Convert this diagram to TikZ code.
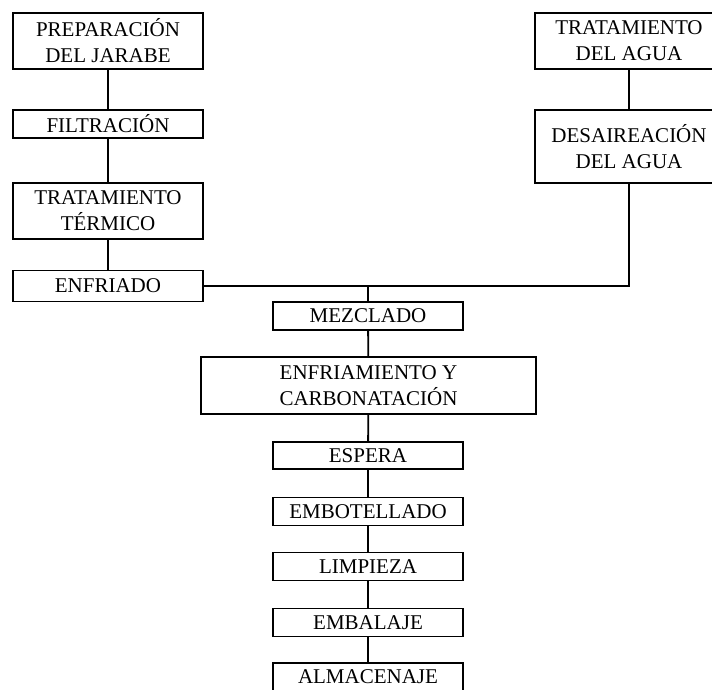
\documentclass[tikz,border=0pt]{standalone}
\usepackage{fontspec}
\setmainfont{Liberation Serif}
\begin{document}
\begin{tikzpicture}[x=1pt,y=-1pt,
  box/.style={draw, line width=1.8pt, align=center, inner sep=0pt,
    font=\fontsize{21}{26}\selectfont},
  ln/.style={line width=1.8pt}]
\useasboundingbox (0,0) rectangle (712,689);
\node[box, minimum width=190pt, minimum height=56pt] (prep) at (108,41) {PREPARACIÓN\\DEL JARABE};
\node[box, minimum width=190pt, minimum height=28pt] (filt) at (108,124) {FILTRACIÓN};
\node[box, minimum width=190pt, minimum height=56pt] (trat) at (108,211) {TRATAMIENTO\\TÉRMICO};
\node[box, minimum width=190pt, minimum height=31pt] (enfr) at (108,286) {ENFRIADO};
\node[box, minimum width=188pt, minimum height=56pt] (tagua) at (629,41) {TRATAMIENTO\\DEL AGUA};
\node[box, minimum width=188pt, minimum height=73pt] (desai) at (629,146.5) {DESAIREACIÓN\\DEL AGUA};
\node[box, minimum width=190pt, minimum height=28pt] (mezcl) at (368,316) {MEZCLADO};
\node[box, minimum width=335pt, minimum height=57pt] (carb) at (368.5,385.5) {ENFRIAMIENTO Y\\CARBONATACIÓN};
\node[box, minimum width=190pt, minimum height=27pt] (esp) at (368,455.5) {ESPERA};
\node[box, minimum width=190pt, minimum height=28pt] (embo) at (368,511.5) {EMBOTELLADO};
\node[box, minimum width=190pt, minimum height=28pt] (limp) at (368,566.5) {LIMPIEZA};
\node[box, minimum width=190pt, minimum height=28pt] (emba) at (368,622.5) {EMBALAJE};
\node[box, minimum width=190pt, minimum height=28pt] (alma) at (368,677) {ALMACENAJE};
\coordinate (j) at (mezcl.north |- enfr.east);
\draw[ln] (prep) -- (filt);
\draw[ln] (filt) -- (trat);
\draw[ln] (trat) -- (enfr);
\draw[ln] (tagua) -- (desai);
\draw[ln] (enfr.east) -- (j) -| (desai.south);
\draw[ln] (j) -- (mezcl.north);
\draw[ln] (mezcl) -- (carb);
\draw[ln] (carb) -- (esp);
\draw[ln] (esp) -- (embo);
\draw[ln] (embo) -- (limp);
\draw[ln] (limp) -- (emba);
\draw[ln] (emba) -- (alma);
\end{tikzpicture}
\end{document}
